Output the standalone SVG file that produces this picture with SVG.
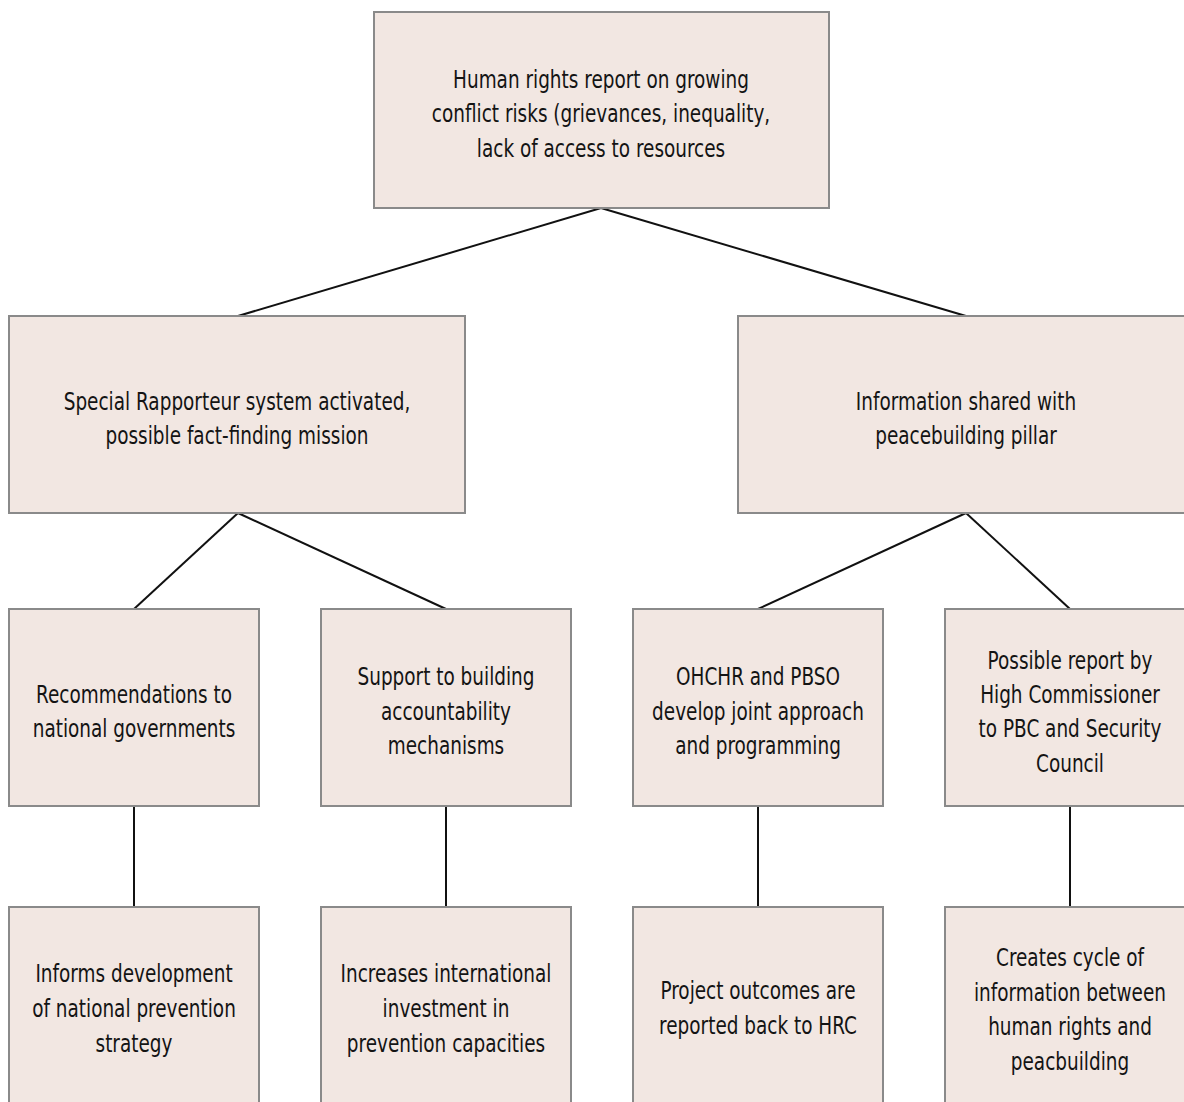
<svg xmlns="http://www.w3.org/2000/svg" width="1184" height="1102" viewBox="0 0 1184 1102">
<style>
.box{fill:#f2e7e2;stroke:#8a8a8a;stroke-width:2}
.t{font-family:"DejaVu Sans Condensed","DejaVu Sans",sans-serif;font-stretch:condensed;font-size:25px;fill:#141414;text-anchor:middle}
.c line{stroke:#111;stroke-width:2}
</style>
<rect width="1184" height="1102" fill="#fff"/>
<g class="c" id="connectors">
<line x1="601" y1="208" x2="238" y2="316"/>
<line x1="601" y1="208" x2="966" y2="316"/>
<line x1="238" y1="513" x2="134" y2="609"/>
<line x1="238" y1="513" x2="446" y2="609"/>
<line x1="966" y1="513" x2="758" y2="609"/>
<line x1="966" y1="513" x2="1070" y2="609"/>
<line x1="134" y1="806" x2="134" y2="907"/>
<line x1="446" y1="806" x2="446" y2="907"/>
<line x1="758" y1="806" x2="758" y2="907"/>
<line x1="1070" y1="806" x2="1070" y2="907"/>
</g>
<g id="n1"><rect class="box" x="374" y="12" width="455" height="196"/>
<text class="t" transform="translate(601 0) scale(0.82 1)"><tspan x="0" y="88">Human rights report on growing</tspan><tspan x="0" y="122">conflict risks (grievances, inequality,</tspan><tspan x="0" y="157">lack of access to resources</tspan></text></g>
<g id="n2"><rect class="box" x="9" y="316" width="456" height="197"/>
<text class="t" transform="translate(237 0) scale(0.82 1)"><tspan x="0" y="410">Special Rapporteur system activated,</tspan><tspan x="0" y="444">possible fact-finding mission</tspan></text></g>
<g id="n3"><rect class="box" x="738" y="316" width="456" height="197"/>
<text class="t" transform="translate(966 0) scale(0.82 1)"><tspan x="0" y="410">Information shared with</tspan><tspan x="0" y="444">peacebuilding pillar</tspan></text></g>
<g id="n4"><rect class="box" x="9" y="609" width="250" height="197"/>
<text class="t" transform="translate(134 0) scale(0.82 1)"><tspan x="0" y="703">Recommendations to</tspan><tspan x="0" y="737">national governments</tspan></text></g>
<g id="n5"><rect class="box" x="321" y="609" width="250" height="197"/>
<text class="t" transform="translate(446 0) scale(0.82 1)"><tspan x="0" y="685">Support to building</tspan><tspan x="0" y="720">accountability</tspan><tspan x="0" y="754">mechanisms</tspan></text></g>
<g id="n6"><rect class="box" x="633" y="609" width="250" height="197"/>
<text class="t" transform="translate(758 0) scale(0.82 1)"><tspan x="0" y="685">OHCHR and PBSO</tspan><tspan x="0" y="720">develop joint approach</tspan><tspan x="0" y="754">and programming</tspan></text></g>
<g id="n7"><rect class="box" x="945" y="609" width="250" height="197"/>
<text class="t" transform="translate(1070 0) scale(0.82 1)"><tspan x="0" y="669">Possible report by</tspan><tspan x="0" y="703">High Commissioner</tspan><tspan x="0" y="737">to PBC and Security</tspan><tspan x="0" y="772">Council</tspan></text></g>
<g id="n8"><rect class="box" x="9" y="907" width="250" height="200"/>
<text class="t" transform="translate(134 0) scale(0.82 1)"><tspan x="0" y="982">Informs development</tspan><tspan x="0" y="1017">of national prevention</tspan><tspan x="0" y="1052">strategy</tspan></text></g>
<g id="n9"><rect class="box" x="321" y="907" width="250" height="200"/>
<text class="t" transform="translate(446 0) scale(0.82 1)"><tspan x="0" y="982">Increases international</tspan><tspan x="0" y="1017">investment in</tspan><tspan x="0" y="1052">prevention capacities</tspan></text></g>
<g id="n10"><rect class="box" x="633" y="907" width="250" height="200"/>
<text class="t" transform="translate(758 0) scale(0.82 1)"><tspan x="0" y="999">Project outcomes are</tspan><tspan x="0" y="1034">reported back to HRC</tspan></text></g>
<g id="n11"><rect class="box" x="945" y="907" width="250" height="200"/>
<text class="t" transform="translate(1070 0) scale(0.82 1)"><tspan x="0" y="966">Creates cycle of</tspan><tspan x="0" y="1001">information between</tspan><tspan x="0" y="1035">human rights and</tspan><tspan x="0" y="1070">peacbuilding</tspan></text></g>
</svg>
